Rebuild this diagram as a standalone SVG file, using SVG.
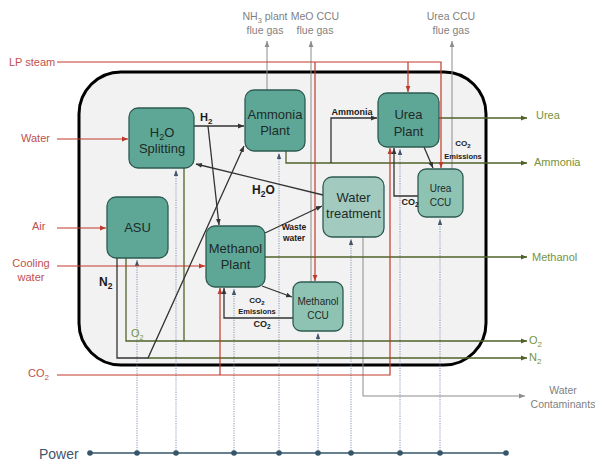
<svg xmlns="http://www.w3.org/2000/svg" width="595" height="463" viewBox="0 0 595 463">
<style>
text{font-family:"Liberation Sans",Arial,sans-serif;}
.nd{fill:#5ea796;stroke:#2d5b52;stroke-width:1.3;}
.ccu{fill:#8ec3b4;stroke:#2d5b52;stroke-width:1.3;}
.wt{fill:#a2cabe;stroke:#2d5b52;stroke-width:1.3;}
.nt{font-size:13px;fill:#1e2a28;text-anchor:middle;}
.ct{font-size:10px;fill:#1e2a28;text-anchor:middle;}
.red{stroke:#c0392b;stroke-width:1.2;fill:none;}
.dk{stroke:#333;stroke-width:1.3;fill:none;}
.ol{stroke:#4f6228;stroke-width:1.3;fill:none;}
.gr{stroke:#8c8c8c;stroke-width:1;fill:none;}
.pw{stroke:#8497b0;stroke-width:1;stroke-dasharray:1.2 1.2;fill:none;}
.rl{font-size:11px;fill:#c0504d;}
.gl{font-size:11px;fill:#76923c;}
.yl{font-size:10.5px;fill:#7f7f7f;text-anchor:middle;}
.bl{font-weight:bold;fill:#1a1a1a;}
</style>
<defs>
<marker id="aR" markerWidth="6" markerHeight="6" refX="6" refY="3" orient="auto" markerUnits="userSpaceOnUse"><path d="M0,0.6 L6,3 L0,5.4 z" fill="#c0392b"/></marker>
<marker id="aD" markerWidth="6" markerHeight="6" refX="6" refY="3" orient="auto" markerUnits="userSpaceOnUse"><path d="M0,0.6 L6,3 L0,5.4 z" fill="#333"/></marker>
<marker id="aO" markerWidth="6" markerHeight="6" refX="6" refY="3" orient="auto" markerUnits="userSpaceOnUse"><path d="M0,0.6 L6,3 L0,5.4 z" fill="#4f6228"/></marker>
<marker id="aG" markerWidth="6" markerHeight="6" refX="6" refY="3" orient="auto" markerUnits="userSpaceOnUse"><path d="M0,0.6 L6,3 L0,5.4 z" fill="#8c8c8c"/></marker>
<marker id="aP" markerWidth="6" markerHeight="6" refX="6" refY="3" orient="auto" markerUnits="userSpaceOnUse"><path d="M0,0.8 L6,3 L0,5.2 z" fill="#44546a"/></marker>
</defs>
<rect width="595" height="463" fill="#fff"/>
<rect id="boundary" x="79" y="72" width="407" height="293" rx="42" fill="#f2f2f2" stroke="#000" stroke-width="3"/>

<g id="connectors">
<!-- power -->
<g id="power">
<path class="pw" d="M137,453V260" marker-end="url(#aP)"/>
<path class="pw" d="M176,453V170" marker-end="url(#aP)"/>
<path class="pw" d="M234,453V289" marker-end="url(#aP)"/>
<path class="pw" d="M279,453V153" marker-end="url(#aP)"/>
<path class="pw" d="M318,453V333" marker-end="url(#aP)"/>
<path class="pw" d="M351,453V239" marker-end="url(#aP)"/>
<path class="pw" d="M400,453V149" marker-end="url(#aP)"/>
<path class="pw" d="M440,453V219" marker-end="url(#aP)"/>
<path d="M90,453H506" stroke="#34556a" stroke-width="1.6"/>
<g fill="#34556a">
<circle cx="90" cy="453" r="2.8"/><circle cx="137" cy="453" r="2.8"/><circle cx="176" cy="453" r="2.8"/><circle cx="234" cy="453" r="2.8"/><circle cx="279" cy="453" r="2.8"/><circle cx="318" cy="453" r="2.8"/><circle cx="351" cy="453" r="2.8"/><circle cx="400" cy="453" r="2.8"/><circle cx="440" cy="453" r="2.8"/><circle cx="506" cy="453" r="2.8"/>
</g>
</g>
<!-- grey -->
<path class="gr" d="M267,90V41" marker-end="url(#aG)"/>
<path class="gr" d="M311,282V41" marker-end="url(#aG)"/>
<path class="gr" d="M452,169V41" marker-end="url(#aG)"/>
<path class="gr" d="M363,237V396H525" marker-end="url(#aG)"/>
<!-- olive -->
<path class="ol" d="M439,118H527" marker-end="url(#aO)"/>
<path class="ol" d="M286,151V163H527" marker-end="url(#aO)"/>
<path class="ol" d="M265,257H527" marker-end="url(#aO)"/>
<path class="ol" d="M126,258V341H527" marker-end="url(#aO)"/>
<path class="ol" d="M184,168V341"/>
<path class="ol" d="M148,358H527" marker-end="url(#aO)"/>
<!-- red -->
<path class="red" d="M57,62H441V168" marker-end="url(#aR)"/>
<path class="red" d="M408,62V92" marker-end="url(#aR)"/>
<path class="red" d="M315,62V281" marker-end="url(#aR)"/>
<path class="red" d="M57,139H128" marker-end="url(#aR)"/>
<path class="red" d="M57,228H106" marker-end="url(#aR)"/>
<path class="red" d="M57,266H205" marker-end="url(#aR)"/>
<path class="red" d="M57,375H390V148" marker-end="url(#aR)"/>
<path class="red" d="M220,375V288" marker-end="url(#aR)"/>
<!-- dark -->
<path class="dk" d="M194,126H244" marker-end="url(#aD)"/>
<path class="dk" d="M208,126L219,225" marker-end="url(#aD)"/>
<path class="dk" d="M117,258V358H148L244,146" marker-end="url(#aD)"/>
<path class="dk" d="M331,163V118H377" marker-end="url(#aD)"/>
<path class="dk" d="M424,147L433,168" marker-end="url(#aD)"/>
<path class="dk" d="M418,196H394V148" marker-end="url(#aD)"/>
<path class="dk" d="M262,286L292,297" marker-end="url(#aD)"/>
<path class="dk" d="M293,318H224V288" marker-end="url(#aD)"/>
<path class="dk" d="M323,195L196,164" marker-end="url(#aD)"/>
<path class="dk" d="M265,233L322,206" marker-end="url(#aD)"/>
</g>

<g id="h2o-splitting"><rect class="nd" x="129" y="108" width="65" height="60" rx="9"/>
<text class="nt" x="162" y="137">H<tspan font-size="9" dy="3">2</tspan><tspan dy="-3">O</tspan></text>
<text class="nt" x="162" y="153">Splitting</text></g>
<g id="ammonia-plant"><rect class="nd" x="245" y="90" width="60" height="61" rx="9"/>
<text class="nt" x="275" y="119">Ammonia</text><text class="nt" x="275" y="135">Plant</text></g>
<g id="urea-plant"><rect class="nd" x="378" y="93" width="61" height="54" rx="9"/>
<text class="nt" x="408.5" y="119">Urea</text><text class="nt" x="408.5" y="136">Plant</text></g>
<g id="urea-ccu"><rect class="ccu" x="418" y="169" width="45" height="48" rx="8"/>
<text class="ct" x="440.5" y="192">Urea</text><text class="ct" x="440.5" y="206">CCU</text></g>
<g id="water-treatment"><rect class="wt" x="323" y="177" width="61" height="60" rx="9"/>
<text class="nt" x="353.5" y="202">Water</text><text class="nt" x="353.5" y="218">treatment</text></g>
<g id="asu"><rect class="nd" x="107" y="197" width="61" height="61" rx="9"/>
<text class="nt" x="137.5" y="232">ASU</text></g>
<g id="methanol-plant"><rect class="nd" x="206" y="226" width="59" height="61" rx="9"/>
<text class="nt" x="235.5" y="253">Methanol</text><text class="nt" x="235.5" y="269">Plant</text></g>
<g id="methanol-ccu"><rect class="ccu" x="293" y="282" width="50" height="49" rx="8"/>
<text class="ct" x="318" y="305">Methanol</text><text class="ct" x="318" y="319">CCU</text></g>

<g id="labels">
<text class="rl" x="9" y="66">LP steam</text>
<text class="rl" x="21" y="142">Water</text>
<text class="rl" x="32" y="230">Air</text>
<text class="rl" x="31" y="267" text-anchor="middle">Cooling</text>
<text class="rl" x="31" y="281" text-anchor="middle">water</text>
<text class="rl" x="28" y="377">CO<tspan font-size="8" dy="3">2</tspan></text>
<text x="39" y="459" font-size="14" fill="#44546a">Power</text>
<text class="gl" x="536" y="119">Urea</text>
<text class="gl" x="534" y="166">Ammonia</text>
<text class="gl" x="532" y="261">Methanol</text>
<text class="gl" x="529" y="344">O<tspan font-size="8" dy="3">2</tspan></text>
<text class="gl" x="529" y="361">N<tspan font-size="8" dy="3">2</tspan></text>
<text class="gl" x="131" y="337" font-size="10">O<tspan font-size="7" dy="3">2</tspan></text>
<text class="yl" x="563" y="394">Water</text>
<text class="yl" x="563" y="408">Contaminants</text>
<text class="yl" x="265" y="20">NH<tspan font-size="7.5" dy="3">3</tspan><tspan dy="-3"> plant</tspan></text>
<text class="yl" x="265" y="34">flue gas</text>
<text class="yl" x="315" y="20">MeO CCU</text>
<text class="yl" x="315" y="34">flue gas</text>
<text class="yl" x="451" y="20">Urea CCU</text>
<text class="yl" x="451" y="34">flue gas</text>
<text class="bl" x="200" y="121" font-size="11">H<tspan font-size="8" dy="3">2</tspan></text>
<text class="bl" x="252" y="194" font-size="12">H<tspan font-size="8.5" dy="3">2</tspan><tspan dy="-3">O</tspan></text>
<text class="bl" x="99" y="286" font-size="12">N<tspan font-size="8.5" dy="3">2</tspan></text>
<text class="bl" x="352" y="115" font-size="9" text-anchor="middle">Ammonia</text>
<text class="bl" x="294" y="230" font-size="8.5" text-anchor="middle">Waste</text>
<text class="bl" x="294" y="241" font-size="8.5" text-anchor="middle">water</text>
<text class="bl" x="257" y="303" font-size="8" text-anchor="middle">CO<tspan font-size="6" dy="2">2</tspan></text>
<text class="bl" x="257" y="314" font-size="7.5" text-anchor="middle">Emissions</text>
<text class="bl" x="262" y="327" font-size="9" text-anchor="middle">CO<tspan font-size="6.5" dy="2">2</tspan></text>
<text class="bl" x="463" y="146" font-size="8" text-anchor="middle">CO<tspan font-size="6" dy="2">2</tspan></text>
<text class="bl" x="463" y="159" font-size="7.5" text-anchor="middle">Emissions</text>
<text class="bl" x="410" y="205" font-size="9" text-anchor="middle">CO<tspan font-size="6.5" dy="2">2</tspan></text>
</g>
</svg>
